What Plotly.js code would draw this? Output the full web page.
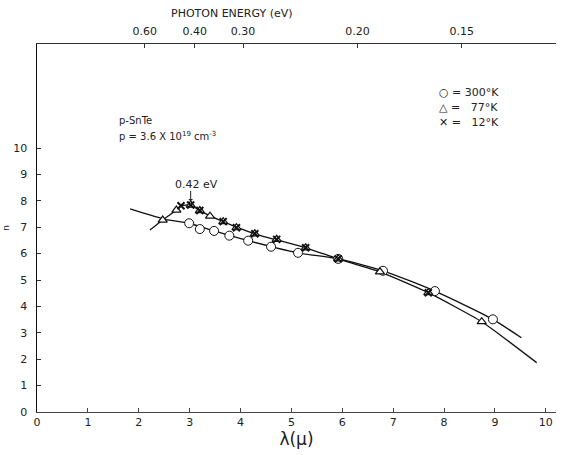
<!DOCTYPE html>
<html><head><meta charset="utf-8">
<script src="https://cdn.plot.ly/plotly-3.0.1.min.js"></script>
<style>html,body{margin:0;padding:0;background:#fff}</style>
</head><body><div id="chart" style="width:566px;height:455px"></div>
<script>
// 300 K data (circles)
const lam300 = [2.99, 3.20, 3.48, 3.78, 4.15, 4.60, 5.13, 5.92, 6.80, 7.82, 8.96];
const n300   = [7.15, 6.93, 6.86, 6.68, 6.49, 6.26, 6.03, 5.80, 5.35, 4.58, 3.51];
// 300 K drawn curve
const curve300Lam = [1.83, 2.47, 2.99, 3.48, 4.15, 5.13, 5.92, 6.80, 7.82, 8.96, 9.52];
const curve300N   = [7.69, 7.32, 7.15, 6.86, 6.49, 6.03, 5.80, 5.35, 4.58, 3.51, 2.81];
// 77 K data (triangles)
const lam77 = [2.47, 2.74, 3.02, 3.20, 3.40, 3.66, 3.92, 4.28, 4.71, 5.28, 5.92, 6.74, 7.69, 8.74];
const n77   = [7.27, 7.65, 7.84, 7.63, 7.42, 7.21, 6.98, 6.75, 6.54, 6.22, 5.80, 5.31, 4.52, 3.42];
// 12 K data (crosses)
const lam12 = [2.83, 3.02, 3.20, 3.66, 3.92, 4.28, 4.71, 5.28, 5.92, 7.69];
const n12   = [7.81, 7.84, 7.63, 7.21, 6.98, 6.75, 6.54, 6.22, 5.80, 4.52];
// low-temperature drawn curve
const curveLowLam = [2.22, 2.47, 2.74, 2.83, 3.02, 3.20, 3.66, 4.28, 5.28, 5.92, 6.74, 7.69, 8.74, 9.82];
const curveLowN   = [6.89, 7.27, 7.65, 7.81, 7.84, 7.63, 7.21, 6.75, 6.22, 5.80, 5.31, 4.52, 3.42, 1.87];
// axes
const xTicks = [0,1,2,3,4,5,6,7,8,9,10];
const yTicks = [0,1,2,3,4,5,6,7,8,9,10];
const energyLabels = ["0.60","0.40","0.30","0.20","0.15"];
const energyTickPos = [2.12, 3.1, 4.05, 6.3, 8.35];

const FONT = "DejaVu Sans, Arial, sans-serif";
const traces = [
  {x: curve300Lam, y: curve300N, mode: 'lines', line: {color: '#111', width: 1.3, shape: 'spline', smoothing: 0.6}, hoverinfo: 'skip'},
  {x: curveLowLam, y: curveLowN, mode: 'lines', line: {color: '#111', width: 1.3, shape: 'spline', smoothing: 0.5}, hoverinfo: 'skip'},
  {x: lam300, y: n300, mode: 'markers', marker: {symbol: 'circle', size: 9, color: '#fff', line: {color: '#111', width: 1}}},
  {x: lam77, y: n77, mode: 'markers', marker: {symbol: 'triangle-up', size: 8, color: '#fff', line: {color: '#111', width: 1.2}}},
  {x: lam12, y: n12, mode: 'markers', marker: {symbol: 'x-thin-open', size: 7, color: '#111', line: {color: '#111', width: 2}}},
  {x: [0], y: [0], xaxis: 'x2', mode: 'markers', marker: {opacity: 0}, hoverinfo: 'skip'}
];

const layout = {
  width: 566, height: 455,
  margin: {l: 37, r: 10, t: 44, b: 43},
  paper_bgcolor: '#fff', plot_bgcolor: '#fff',
  showlegend: false,
  font: {family: FONT, color: '#222', size: 11},
  xaxis: {
    range: [0, 10.2], tickvals: xTicks, ticktext: xTicks.map(String),
    showgrid: false, zeroline: false, showline: true, linecolor: '#444', linewidth: 1,
    ticks: 'inside', ticklen: 4, tickcolor: '#444', tickfont: {size: 11, family: FONT},
    title: {text: 'λ(μ)', font: {size: 17, family: FONT}, standoff: 3}
  },
  xaxis2: {
    overlaying: 'x', side: 'top', range: [0, 10.2],
    tickvals: energyTickPos, ticktext: energyLabels,
    showgrid: false, zeroline: false, showline: true, linecolor: '#333', linewidth: 1,
    ticks: 'inside', ticklen: 4, tickcolor: '#333', tickfont: {size: 11, family: FONT},
    ticklabelstandoff: 4
  },
  yaxis: {
    range: [0, 13.94], tickvals: yTicks, ticktext: yTicks.map(String),
    showgrid: false, zeroline: false, showline: true, linecolor: '#111', linewidth: 1.5,
    ticks: 'inside', ticklen: 4, tickcolor: '#333', tickfont: {size: 11, family: FONT},
    ticklabelstandoff: 6,
    title: {text: 'n', font: {size: 9, family: FONT}, standoff: 2}
  },
  annotations: [
    {xref: 'paper', yref: 'paper', x: 0.376, y: 1.105, text: 'PHOTON ENERGY (eV)', showarrow: false, font: {size: 11, family: FONT}},
    {x: 1.57, y: 11.06, text: 'p-SnTe', showarrow: false, xanchor: 'left', font: {size: 10, family: FONT}},
    {x: 1.57, y: 10.45, text: 'p = 3.6 X 10<sup>19</sup> cm<sup>-3</sup>', showarrow: false, xanchor: 'left', font: {size: 10, family: FONT}},
    {x: 3.14, y: 8.62, text: '0.42 eV', showarrow: false, font: {size: 11, family: FONT}},
    {x: 3.02, y: 7.98, ax: 0, ay: -12, text: '', showarrow: true, arrowhead: 1, arrowsize: 0.8, arrowwidth: 1, arrowcolor: '#222'},
    {x: 7.86, y: 12.12, text: '○ = 300°K', showarrow: false, xanchor: 'left', font: {size: 11, family: FONT}},
    {x: 7.86, y: 11.55, text: '△ =   77°K', showarrow: false, xanchor: 'left', font: {size: 11, family: FONT}},
    {x: 7.86, y: 10.98, text: '<b>✕</b> =   12°K', showarrow: false, xanchor: 'left', font: {size: 11, family: FONT}}
  ]
};
Plotly.newPlot('chart', traces, layout, {displayModeBar: false, staticPlot: true});
</script></body></html>
